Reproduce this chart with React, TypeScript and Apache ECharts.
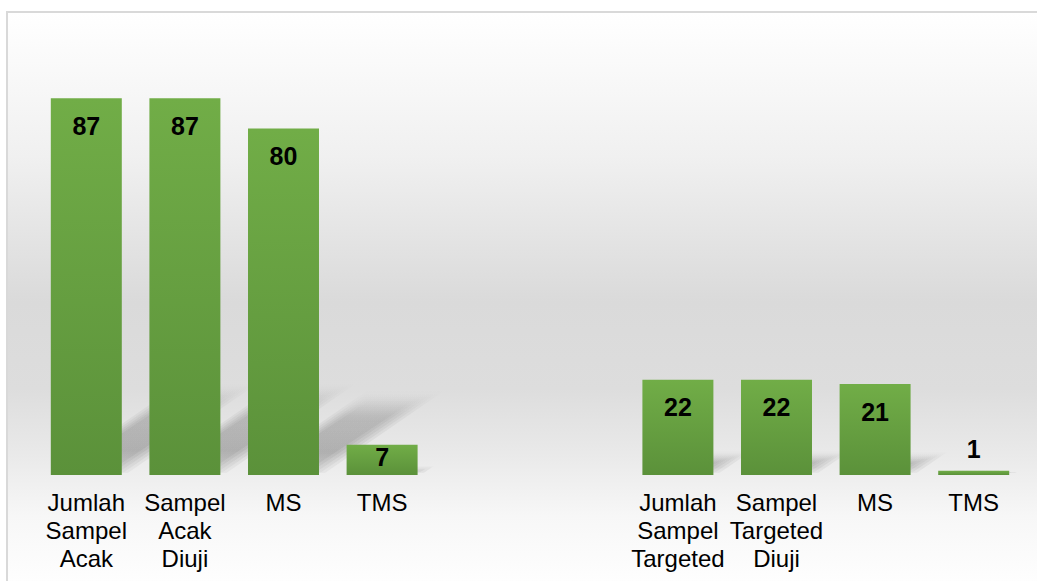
import React, { useEffect, useRef } from "react";
import * as echarts from "echarts";

const categories = [
  "Jumlah\nSampel\nAcak",
  "Sampel\nAcak\nDiuji",
  "MS",
  "TMS",
  "",
  "",
  "Jumlah\nSampel\nTargeted",
  "Sampel\nTargeted\nDiuji",
  "MS",
  "TMS",
];
const values: (number | null)[] = [87, 87, 80, 7, null, null, 22, 22, 21, 1];

const FONT = "'Liberation Sans', Arial, Helvetica, sans-serif";

function labelFor(v: number) {
  if (v <= 3) return { position: "top", distance: 9 };
  if (v < 12) return { position: "insideTop", distance: 0 };
  return { position: "insideTop", distance: 15 };
}

export default function App() {
  const ref = useRef<HTMLDivElement>(null);
  useEffect(() => {
    if (!ref.current) return;
    const chart = echarts.init(ref.current, undefined, { renderer: "svg" });
    const barData = values.map((v) =>
      v === null ? "-" : { value: v, label: labelFor(v) }
    );
    const shadowData = values.map((v, i) => [i, v === null ? NaN : v]);
    chart.setOption({
      animation: false,
      graphic: [
        {
          type: "rect",
          z: -10,
          silent: true,
          shape: { x: 7, y: 12, width: 1040, height: 580 },
          style: {
            fill: new echarts.graphic.LinearGradient(0, 0, 0, 1, [
              { offset: 0, color: "#ffffff" },
              { offset: 0.25, color: "#f0f0f0" },
              { offset: 0.5, color: "#dadada" },
              { offset: 0.65, color: "#dddddd" },
              { offset: 0.76, color: "#e9e9e9" },
              { offset: 0.87, color: "#f7f7f7" },
              { offset: 1, color: "#ffffff" },
            ]),
            stroke: "#d9d9d9",
            lineWidth: 2,
          },
        },
      ],
      grid: { left: 37, right: 14, top: 42, bottom: 106, containLabel: false },
      xAxis: {
        type: "category",
        data: categories,
        axisLine: { show: false },
        axisTick: { show: false },
        axisLabel: {
          interval: 0,
          fontSize: 24,
          lineHeight: 28,
          color: "#000",
          margin: 13,
          fontFamily: FONT,
        },
      },
      yAxis: { type: "value", min: 0, max: 100, show: false, splitLine: { show: false } },
      series: [
        {
          type: "custom",
          z: 1,
          silent: true,
          data: shadowData,
          renderItem: (params: any, api: any) => {
            const idx = api.value(0);
            const v = api.value(1);
            if (isNaN(v)) return null;
            const base = api.coord([idx, 0]);
            const top = api.coord([idx, v]);
            const bw = api.size([1, 0])[0] * 0.72;
            const h = (base[1] - top[1]) * 0.24;
            const dx = h * 1.45;
            const y0 = base[1] - 2;
            const children: any[] = [];
            const layers = [0, 4, 8, 12, 16];
            layers.forEach((ins) => {
              const xl = base[0] - bw / 2 + ins;
              const xr = base[0] + bw / 2 + 6 - ins;
              const hh = Math.max(h - ins * 0.6, 0);
              const d = hh * 1.45;
              if (xr <= xl) return;
              children.push({
                type: "polygon",
                shape: {
                  points: [
                    [xl, y0 - ins * 0.2],
                    [xr, y0 - ins * 0.2],
                    [xr + d, y0 - hh],
                    [xl + d, y0 - hh],
                  ],
                },
                style: {
                  fill: new echarts.graphic.LinearGradient(0, 1, 0, 0, [
                    { offset: 0, color: "rgba(0,0,0,0.035)" },
                    { offset: 0.25, color: "rgba(0,0,0,0.055)" },
                    { offset: 0.7, color: "rgba(0,0,0,0.04)" },
                    { offset: 1, color: "rgba(0,0,0,0)" },
                  ]),
                },
              });
            });
            return { type: "group", children };
          },
        },
        {
          type: "bar",
          z: 3,
          barWidth: "72%",
          data: barData,
          itemStyle: {
            color: new echarts.graphic.LinearGradient(0, 0, 0, 1, [
              { offset: 0, color: "#71ad47" },
              { offset: 1, color: "#5b913a" },
            ]),
          },
          label: {
            show: true,
            color: "#000",
            fontSize: 25,
            fontWeight: "bold",
            fontFamily: FONT,
          },
        },
      ],
    });
    return () => chart.dispose();
  }, []);
  return (
    <div
      ref={ref}
      style={{ position: "absolute", left: 0, top: 0, width: 1037, height: 581 }}
    />
  );
}
